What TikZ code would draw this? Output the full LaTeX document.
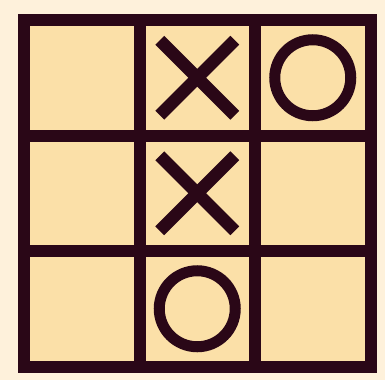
\documentclass[tikz,border=0pt]{standalone}
\usepackage{tikz}
\usetikzlibrary{calc}

\definecolor{boardbg}{HTML}{FEF1DB}
\definecolor{cellfill}{HTML}{FBE0A8}
\definecolor{inkdark}{HTML}{2A0717}

\tikzset{
  gridline/.style={draw=inkdark, line width=12},
  crossline/.style={draw=inkdark, line width=12.5},
  ringline/.style={draw=inkdark, line width=11}
}

\begin{document}
\begin{tikzpicture}[x=1pt,y=-1pt]

\fill[boardbg] (0,0) rectangle (385,380);
\useasboundingbox (0,0) rectangle (385,380);

\coordinate (NW) at (24,20);
\coordinate (SE) at (370.5,366.5);

\fill[cellfill] (NW) rectangle (SE);

% inner grid lines
\foreach \k in {1,2} {
  \draw[gridline] ($(NW)+(115.5*\k,0)$) -- ($(NW)+(115.5*\k,346.5)$);
  \draw[gridline] ($(NW)+(0,115.5*\k)$) -- ($(NW)+(346.5,115.5*\k)$);
}
\draw[gridline, line join=miter] (NW) rectangle (SE);

% cell centres
\coordinate (A2) at (197.25,77.75);
\coordinate (A3) at (312.75,77.75);
\coordinate (B2) at (197.25,193.25);
\coordinate (C2) at (197.25,308.75);

% crosses
\foreach \c in {A2,B2} {
  \draw[crossline] ($(\c)+(-37.5,-37.5)$) -- ($(\c)+(37.5,37.5)$);
  \draw[crossline] ($(\c)+(-37.5,37.5)$) -- ($(\c)+(37.5,-37.5)$);
}

% rings
\foreach \c in {A3,C2}
  \draw[ringline] (\c) circle (38);

\end{tikzpicture}
\end{document}
